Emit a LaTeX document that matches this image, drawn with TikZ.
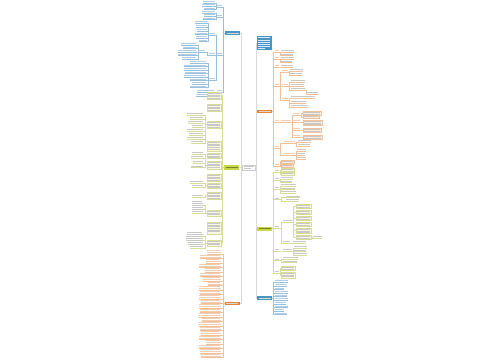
\documentclass[tikz,border=0pt]{standalone}
\definecolor{blueN}{RGB}{72,150,198}
\definecolor{orN}{RGB}{232,132,48}
\definecolor{grN}{RGB}{200,215,70}
\definecolor{blueL}{RGB}{150,192,222}
\definecolor{orL}{RGB}{242,192,150}
\definecolor{grL}{RGB}{215,220,150}
\definecolor{txt}{RGB}{200,200,200}
\definecolor{txB}{RGB}{180,205,228}
\definecolor{txO}{RGB}{240,205,180}
\definecolor{boxY}{RGB}{251,248,225}
\definecolor{boxO}{RGB}{253,236,220}
\tikzset{cn/.style={line width=.25pt},
  mn/.style={inner sep=0pt,outer sep=0pt,rectangle}}
% leaf: x1 x2 y underline text
\newcommand\lf[5]{\fill[#5] (#1,#3-2.0) rectangle (#2,#3-1.0);\draw[#4,cn] (#1,#3)--(#2,#3);}
% two-row leaf
\newcommand\lft[5]{\fill[#5] (#1,#3-3.7) rectangle (#2-1.5,#3-2.8);\fill[#5] (#1,#3-2.0) rectangle (#2,#3-1.1);\draw[#4,cn] (#1,#3)--(#2,#3);}
% box: x1 x2 y1 y2 fill border rows
\newcommand\bx[7]{\filldraw[fill=#5,draw=#6,cn] (#1,#3) rectangle (#2,#4);
  \foreach \i in {1,...,#7}{\fill[txt] (#1+0.8,{#3+\i*1.7-0.85}) rectangle (#2-0.8,{#3+\i*1.7-0.25});}}
% group connectors: colour, parent x, parent y, trunk x, list of child x/y
\newcommand\gp[5]{\foreach \cx/\cy in {#5}{\draw[#1,cn] (#2,#3)--(#4,#3)--(#4,\cy)--(\cx,\cy);}}
\begin{document}
\begin{tikzpicture}[x=1pt,y=-1pt]
\useasboundingbox[fill=white] (0,0) rectangle (500,360);
% ---------- main nodes
\node[mn,draw=gray!40,line width=.25pt,fill=white,minimum width=13pt,minimum height=5pt] (c) at (248.5,167.5) {};
\node[mn,fill=blueN,minimum width=15pt,minimum height=4pt] (L1) at (232.5,33) {};
\node[mn,fill=grN,minimum width=15pt,minimum height=5pt] (L2) at (231.5,167.5) {};
\node[mn,fill=orN,minimum width=15pt,minimum height=3.5pt] (L3) at (232,303.5) {};
\node[mn,fill=blueN,minimum width=15pt,minimum height=14pt] (R1) at (264,43) {};
\node[mn,fill=orN,minimum width=15pt,minimum height=3.5pt] (R2) at (264.5,111.5) {};
\node[mn,fill=grN,minimum width=15pt,minimum height=4pt] (R3) at (264.5,228.5) {};
\node[mn,fill=blueN,minimum width=15pt,minimum height=3.5pt] (R4) at (264.5,298) {};
% texts inside nodes
\fill[gray!45] (243.5,166.3) rectangle (253.5,167.1);
\fill[gray!45] (243.5,168.3) rectangle (251,169.1);
\foreach \n in {L1,L3,R2,R4}{\fill[white!70!gray] ([xshift=1.5pt,yshift=-0.35pt]\n.west) rectangle ([xshift=-1.5pt,yshift=0.35pt]\n.east);}
\foreach \n in {L2,R3}{\fill[grN!60!black] ([xshift=1.5pt,yshift=-0.35pt]\n.west) rectangle ([xshift=-1.5pt,yshift=0.35pt]\n.east);}
\foreach \i in {1,...,5}{\fill[white!80!blueN] (258,{36+\i*2.2-0.85}) rectangle (270,{36+\i*2.2-0.15});}
\fill[white!80!blueN] (258,48.3) rectangle (265,49.0);
% ---------- main connectors
\foreach \n in {L1,L2,L3}{\draw[gray!30,cn] (c.west)--++(-1,0)|-(\n.east);}
\foreach \n in {R1,R2,R3,R4}{\draw[gray!30,cn] (c.east)--++(1,0)|-(\n.west);}
% ---------- left blue branch
\gp{blueL}{225}{33}{223.5}{222/7,222/17,222/55,222/92}
\foreach \y in {7,17,55,92}{\lf{217}{222}{\y}{blueL}{txB}}
\gp{blueL}{217}{7}{216}{215/3,215/6.3,215/9.6}
\lf{203}{215}{3}{blueL}{txB}\lf{202}{215}{6.3}{blueL}{txB}\lf{204}{215}{9.6}{blueL}{txB}
\gp{blueL}{217}{17}{216}{215/13,215/16.3,215/19.6}
\lf{202}{215}{13}{blueL}{txB}\lf{204}{215}{16.3}{blueL}{txB}\lf{203}{215}{19.6}{blueL}{txB}
\gp{blueL}{217}{55}{216}{215/35,215/55,215/80}
\foreach \y in {35,55,80}{\lf{209}{215}{\y}{blueL}{txB}}
\gp{blueL}{209}{35}{208}{207/23,207/27,207/31,207/34.5,207/38,207/41.5}
\foreach \y/\a in {23/195,27/196,31/197,34.5/195,38/196,41.5/199}{\lf{\a}{207}{\y}{blueL}{txB}}
\gp{blueL}{209}{55}{207.5}{205/52}
\lf{199}{205}{52}{blueL}{txB}
\gp{blueL}{199}{52}{198}{196/45,196/48.5,196/52,196/55.5,196/59}
\foreach \y/\a in {45/181,48.5/183,52/178,55.5/178,59/182}{\lf{\a}{196}{\y}{blueL}{txB}}
\gp{blueL}{209}{80}{208}{206/63,206/66.5,206/70,206/73.5,206/77,206/80.5,206/84,206/87.5}
\foreach \y/\a in {63/190,66.5/184,70/184,73.5/185,77/184,80.5/190,84/192,87.5/190}{\lf{\a}{206}{\y}{blueL}{txB}}
\gp{blueL}{217}{92}{215.5}{214/92,214/96}
\lf{197}{214}{92}{blueL}{txB}\lf{196}{214}{96}{blueL}{txB}
% ---------- left green branch
\gp{grL}{224}{167.5}{222.5}{221/95.5,221/107.5,221/124.5,221/146,221/155.5,221/165,221/177.5,221/185.5,221/195.5,221/213,221/228,221/243}
\foreach \a/\b/\r in {92/99/4,104/111/4,121/128/4,141/151/5,153/158/3,161/169/4,174/181/4,183/188/3,192/199/4,210/216/3,222/234/6,240/246/3}{\bx{207}{221}{\a}{\b}{boxY}{grL}{\r}}
\gp{grL}{207}{124.5}{205}{203/115,203/119,203/123,203/127,203/131,203/135,203/139,203/143}
\foreach \y/\a in {115/187,119/190,123/188,127/192,131/187,135/189,139/187,143/191}{\lf{\a}{203}{\y}{grL}{txt}}
\gp{grL}{207}{165}{205}{203/154,203/158,203/163,203/167.5}
\foreach \y/\a in {154/192,158/191,163/193,167.5/191}{\lf{\a}{203}{\y}{grL}{txt}}
\gp{grL}{207}{185.5}{205}{203/183,203/187}
\lf{190}{203}{183}{grL}{txt}\lf{192}{203}{187}{grL}{txt}
\gp{grL}{207}{195.5}{205}{203/197}
\lf{192}{203}{197}{grL}{txt}
\gp{grL}{207}{213}{205}{203/205,203/209,203/213}
\foreach \y in {205,209,213}{\lft{192}{203}{\y}{grL}{txt}}
\gp{grL}{207}{243}{205}{203/236,203/240,203/244,203/248}
\foreach \y/\a in {236/187,240/186,244/188,248/190}{\lft{\a}{203}{\y}{grL}{txt}}
% ---------- left orange branch
\foreach \y/\a in {254/207,258.5/200,263/206,267.5/199,272/205,276.5/200,281/203,285.5/208,290/199,294.5/200,299/199,303.5/201,308/199,312.5/200,317/199,321.5/202,326/199,330.5/200,335/201,339.5/199,344/206,348.5/199,353/200,357.5/201}{
  \draw[orL,cn] (L3.west)--(223.5,303.5)--(223.5,\y)--(221,\y);
  \lft{\a}{221}{\y}{orL}{txO}}
% ---------- right orange branch
\gp{orL}{272}{111.5}{273.5}{275/52,275/59,275/67,275/86,275/122,275/148,275/166}
\foreach \y in {52,59,67,86,122,148,166}{\lf{275}{279}{\y}{orL}{txO}}
\gp{orL}{279}{52}{280}{281/52,281/55.5}
\lf{281}{294}{52}{orL}{txt}\lf{281}{293}{55.5}{orL}{txt}
\gp{orL}{279}{59}{280}{281/59,281/62.5}
\lf{281}{294}{59}{orL}{txt}\lf{281}{292}{62.5}{orL}{txt}
\gp{orL}{279}{67}{280}{281/67}
\lf{281}{293}{67}{orL}{txt}
\gp{orL}{279}{86}{280.5}{282/72,282/86,282/100}
\foreach \y in {72,86,100}{\lf{282}{288}{\y}{orL}{txO}}
\gp{orL}{288}{72}{289}{290/71,290/75}
\lf{290}{303}{71}{orL}{txt}\lf{290}{302}{75}{orL}{txt}
\gp{orL}{288}{86}{289.5}{291/82,291/86,291/90}
\lf{291}{305}{82}{orL}{txt}\lf{291}{304}{86}{orL}{txt}\lf{291}{305}{90}{orL}{txt}
\gp{orL}{305}{90}{306}{307/94}
\lf{307}{318}{94}{orL}{txt}
\gp{orL}{288}{100}{289.5}{291/98,291/103,291/107}
\lf{291}{315}{98}{orL}{txt}\lf{291}{306}{103}{orL}{txt}\lf{291}{308}{107}{orL}{txt}
\gp{orL}{279}{122}{280}{281/122}
\lf{281}{291}{122}{orL}{txO}
\gp{orL}{291}{122}{292}{293/115,293/122,293/130,293/137}
\foreach \y in {115,122,130,137}{\lf{293}{300}{\y}{orL}{txO}}
\gp{orL}{300}{115}{301.5}{303/113,303/117}
\gp{orL}{300}{122}{301.5}{303/122.5}
\gp{orL}{300}{130}{301.5}{303/130}
\gp{orL}{300}{137}{301.5}{303/137}
\bx{303}{321}{111.3}{114.7}{boxO}{orL}{2}
\bx{303}{319}{115.5}{118.5}{boxO}{orL}{1}
\bx{303}{322}{120}{125}{boxO}{orL}{3}
\bx{303}{321}{128}{132}{boxO}{orL}{2}
\bx{303}{322}{135}{139}{boxO}{orL}{2}
\gp{orL}{279}{148}{280.5}{284/143,284/155}
\lf{284}{295}{143}{orL}{txO}\lf{284}{295}{155}{orL}{txO}
\gp{orL}{295}{143}{296.5}{298/142,298/146}
\lf{298}{311}{142}{orL}{txt}\lf{298}{310}{146}{orL}{txt}
\gp{orL}{295}{155}{296}{297/151,297/155,297/159}
\lf{297}{306}{151}{orL}{txt}\lf{297}{305}{155}{orL}{txt}\lf{297}{306}{159}{orL}{txt}
\gp{orL}{279}{166}{280}{281/161.5,281/165.3}
\bx{281}{294}{160}{163}{boxO}{orL}{1}
\bx{281}{293}{163.8}{166.8}{boxO}{orL}{1}
% ---------- right yellow branch
\gp{grL}{272}{228.5}{273.5}{275/172,275/180,275/189,275/199.5,275/228,275/251,275/260.5,275/273}
\foreach \y in {172,180,189,199.5,228,251,260.5,273}{\lf{275}{279}{\y}{grL}{txt}}
\gp{grL}{279}{172}{280}{281/170,281/174}
\bx{281}{294}{168.5}{171.5}{boxY}{grL}{1}
\bx{281}{294}{172.3}{175.5}{boxY}{grL}{1}
\gp{grL}{279}{180}{280}{281/179,281/182.5}
\lf{281}{293}{179}{grL}{txt}\lf{281}{292}{182.5}{grL}{txt}
\gp{grL}{279}{189}{280}{281/186,281/189.5,281/193}
\lf{281}{296}{186}{grL}{txt}\lf{281}{295}{189.5}{grL}{txt}\lf{281}{296}{193}{grL}{txt}
\gp{grL}{279}{199.5}{281}{286/197.5,286/201}
\lf{286}{300}{197.5}{grL}{txt}\lf{286}{299}{201}{grL}{txt}
\gp{grL}{279}{228}{281.5}{283/222,283/243}
\lf{283}{292}{222}{grL}{txt}\lf{283}{290}{243}{grL}{txt}
\gp{grL}{292}{222}{293.5}{296/206,296/212,296/218,296/224,296/230.5,296/237}
\foreach \a/\b/\r in {204/208/2,210/214/2,216/220/2,222/226/2,228/233/3,235/239/2}{\bx{296}{311}{\a}{\b}{boxY}{grL}{\r}}
\gp{grL}{311}{237}{312}{313/238}
\lf{313}{322}{238}{grL}{txt}
\gp{grL}{290}{243}{291.5}{293/243}
\lf{293}{306}{243}{grL}{txt}
\gp{grL}{279}{251}{281.5}{283/251}
\lf{283}{292}{251}{grL}{txt}
\gp{grL}{292}{251}{293}{294/248,294/251.5,294/255}
\lf{294}{307}{248}{grL}{txt}\lf{294}{306}{251.5}{grL}{txt}\lf{294}{307}{255}{grL}{txt}
\gp{grL}{279}{260.5}{281}{283/259,283/262.5}
\lf{283}{298}{259}{grL}{txt}\lf{283}{297}{262.5}{grL}{txt}
\gp{grL}{279}{273}{280}{281/268.5,281/275}
\bx{281}{295}{266.5}{270.5}{boxY}{grL}{2}
\bx{281}{295}{272}{278}{boxY}{grL}{3}
% ---------- right blue branch
\gp{blueL}{272}{298}{273}{274.5/282,274.5/286,274.5/289.5,274.5/293,274.5/296.5,274.5/300,274.5/304,274.5/307.5,274.5/311,274.5/314.5}
\foreach \y/\b in {282/288,286/287,289.5/284,293/288,296.5/287,300/288,304/286,307.5/288,311/284,314.5/287}{\lf{274.5}{\b}{\y}{blueL}{txB}}
\end{tikzpicture}
\end{document}
